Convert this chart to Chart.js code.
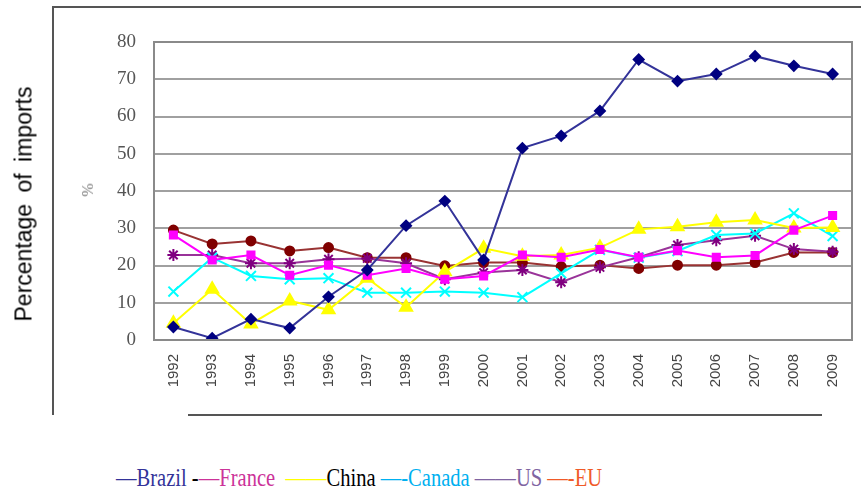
<!DOCTYPE html>
<html lang="en">
<head>
    <meta charset="UTF-8">
    <title>Percentage of imports</title>
    <script src="https://cdn.jsdelivr.net/npm/chart.js"></script>
    <style>
        body { margin: 0; background: #fff; width: 861px; height: 498px; position: relative; overflow: hidden; }
        #wrap { position: absolute; left: 0; top: 0; width: 861px; height: 440px; }
        #ytitle { position: absolute; left: 24px; top: 204px; transform: translate(-50%, -50%) rotate(-90deg);
                  font-family: "Liberation Sans", Arial, sans-serif; font-size: 23px; white-space: nowrap; word-spacing: 5px; }
        #pct { position: absolute; left: 88px; top: 190px; transform: translate(-50%, -50%) rotate(-90deg);
               font-family: "Liberation Serif", serif; font-size: 16px; color: #777; }
        #legend { position: absolute; left: 116px; top: 463px; font-family: "Liberation Serif", serif; font-size: 26px;
                  white-space: nowrap; transform: scaleX(0.79); transform-origin: 0 0; }
    </style>
</head>
<body>
    <div id="wrap"><canvas id="importsChart"></canvas></div>
    <div id="ytitle">Percentage of imports</div>
    <div id="pct">%</div>
    <div id="legend"><span style="color:#333399">—Brazil</span> <span style="color:#000">-</span><span style="color:#cc3399">—France</span>&#8194;<span style="color:#ffff00">——</span><span style="color:#000">China</span> <span style="color:#00b0f0">—-Canada</span> <span style="color:#8064a2">——US</span> <span style="color:#f05a28">—-EU</span></div>

    <script>
        const years = ['1992', '1993', '1994', '1995', '1996', '1997', '1998', '1999', '2000',
                       '2001', '2002', '2003', '2004', '2005', '2006', '2007', '2008', '2009'];
        const brazil = [3.5, 0.5, 5.6, 3.2, 11.6, 18.8, 30.7, 37.3, 21.5, 51.5, 54.8, 61.5, 75.3, 69.5, 71.4, 76.2, 73.6, 71.4];
        const france = [28.2, 21.5, 22.8, 17.4, 20.1, 17.4, 19.2, 16.3, 17.2, 22.8, 22.2, 24.3, 22.2, 24.0, 22.2, 22.7, 29.5, 33.4];
        const china  = [4.5, 13.6, 4.3, 10.5, 8.1, 16.6, 8.8, 18.3, 24.6, 22.5, 22.8, 24.8, 29.7, 30.4, 31.6, 32.2, 30.1, 30.2];
        const canada = [13.0, 22.1, 17.2, 16.3, 16.6, 12.7, 12.7, 13.0, 12.7, 11.5, 17.9, 24.2, 22.1, 23.9, 28.2, 28.6, 34.0, 27.9];
        const us     = [22.8, 22.8, 20.6, 20.6, 21.7, 21.9, 20.6, 16.3, 18.1, 18.8, 15.5, 19.5, 22.2, 25.5, 26.8, 28.0, 24.4, 23.7];
        const eu     = [29.5, 25.8, 26.6, 23.9, 24.8, 22.1, 22.1, 19.9, 20.8, 20.8, 19.7, 20.1, 19.2, 20.1, 20.1, 20.8, 23.5, 23.5];

        function series(label, data, line, mark, style, radius) {
            return {
                label: label, data: data,
                borderColor: line, borderWidth: 2,
                pointStyle: style, pointRadius: radius,
                pointBackgroundColor: mark, pointBorderColor: mark, pointBorderWidth: 2,
                fill: false, tension: 0
            };
        }

        // frame around plot + outer figure lines
        const frame = {
            id: 'frame',
            afterDraw(chart) {
                const { ctx, chartArea: a } = chart;
                ctx.save();
                ctx.strokeStyle = '#8a8a8a';
                ctx.lineWidth = 2;
                ctx.strokeRect(a.left, a.top, a.right - a.left, a.bottom - a.top);
                ctx.strokeStyle = '#555';
                ctx.beginPath();
                ctx.moveTo(861, 7); ctx.lineTo(53, 7); ctx.lineTo(53, 415);
                ctx.moveTo(188, 415); ctx.lineTo(822, 415);
                ctx.stroke();
                ctx.restore();
            }
        };

        new Chart(document.getElementById('importsChart'), {
            type: 'line',
            data: {
                labels: years,
                datasets: [
                    series('Brazil', brazil, '#333399', '#000080', 'rectRot', 5),
                    series('France', france, '#ff00ff', '#ff00ff', 'rect', 5),
                    series('China', china, '#ffff00', '#ffff00', 'triangle', 7),
                    series('Canada', canada, '#00ffff', '#00ffff', 'crossRot', 7),
                    series('US', us, '#993399', '#800080', 'star', 6),
                    series('EU', eu, '#993333', '#800000', 'circle', 4.5)
                ]
            },
            options: {
                responsive: true,
                maintainAspectRatio: false,
                animation: false,
                layout: { padding: { top: 42, right: 5, left: 0, bottom: 0 } },
                plugins: { legend: { display: false }, tooltip: { enabled: false } },
                scales: {
                    x: {
                        offset: true,
                        grid: { display: false },
                        border: { display: false },
                        ticks: {
                            minRotation: 90, maxRotation: 90, padding: 6,
                            color: '#444', font: { family: "'Liberation Sans', Arial, sans-serif", size: 15 }
                        },
                        afterFit(scale) { scale.height = 100; }
                    },
                    y: {
                        min: 0, max: 80,
                        grid: { color: '#a0a0a0', lineWidth: 2, drawTicks: false },
                        border: { display: false },
                        ticks: {
                            stepSize: 10, padding: 18,
                            color: '#555', font: { family: "'Liberation Serif', 'Times New Roman', serif", size: 19 }
                        },
                        afterFit(scale) { scale.width = 154; }
                    }
                }
            },
            plugins: [frame]
        });
    </script>
</body>
</html>
